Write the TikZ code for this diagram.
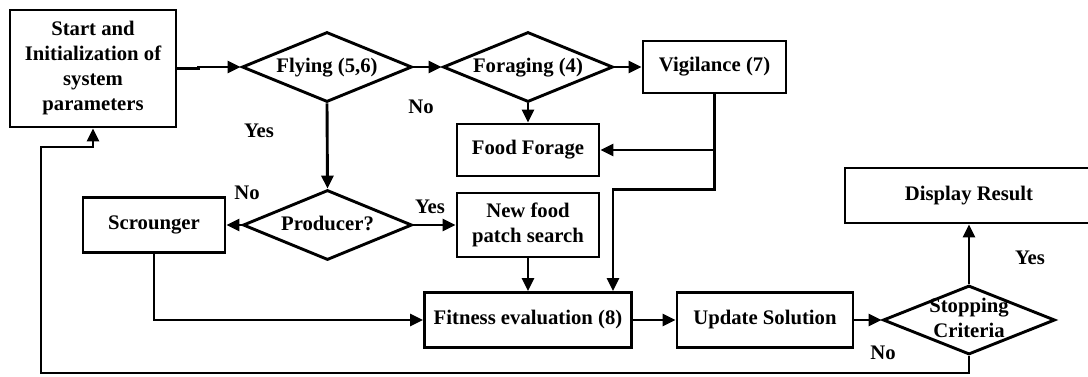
\documentclass[tikz,border=0pt]{standalone}
\usepackage{fontspec}
\setmainfont{Liberation Serif}
\usetikzlibrary{shapes.geometric,arrows.meta}
\newcommand{\dtext}[1]{\makebox[0pt]{\begin{tabular}{@{}c@{}}#1\end{tabular}}}
\begin{document}
\begin{tikzpicture}[x=1pt, y=-1pt, font=\fontsize{20.7}{25}\selectfont\bfseries, line join=miter,
	block/.style={draw, line width=2.9pt, rectangle, align=center, inner sep=0pt},
	decision/.style={draw, line width=2.9pt, diamond, inner sep=0pt, minimum width=170pt, minimum height=70pt},
	lbl/.style={inner sep=0pt},
	arr/.style={line width=2.9pt, -{Triangle[length=13pt,width=12pt]}}]
	% Khung hình
	\useasboundingbox (0,0) rectangle (1088,376);
	
	% Các khối
	\node[block, minimum width=166pt, minimum height=117pt] (start) at (93,68.5) {Start and\\Initialization of\\system\\parameters};
	\node[decision] (flying) at (327,67) {\dtext{Flying (5,6)}};
	\node[decision] (forag) at (528,67) {\dtext{Foraging (4)}};
	\node[block, minimum width=143pt, minimum height=52pt] (vigil) at (714.5,67) {Vigilance (7)};
	\node[block, minimum width=142pt, minimum height=52pt] (food) at (528,150) {Food Forage};
	\node[decision, minimum width=169pt] (prod) at (327.5,225) {\dtext{Producer?}};
	\node[block, minimum width=142pt, minimum height=55pt] (scroung) at (154,225) {Scrounger};
	\node[block, minimum width=142pt, minimum height=64pt] (newfood) at (528,225) {New food\\patch search};
	\node[block, minimum width=207pt, minimum height=55pt] (fitness) at (528,320) {Fitness evaluation (8)};
	\node[block, minimum width=176pt, minimum height=55pt] (update) at (765,320) {Update Solution};
	\node[decision, minimum width=172pt, minimum height=69pt] (stop) at (969,320) {\dtext{Stopping\\Criteria}};
	\node[block, minimum width=248pt, minimum height=55pt] (display) at (969,195.5) {Display Result};
	
	% Nhãn
	\node[lbl] (noA) at (421,107) {No};
	\node[lbl] (yesA) at (259,131) {Yes};
	\node[lbl] (noB) at (247,193) {No};
	\node[lbl] (yesB) at (430,207) {Yes};
	\node[lbl] (yesC) at (1030,258) {Yes};
	\node[lbl] (noC) at (883,353) {No};
	
	% Các mũi tên
	\draw[arr] (start.east) -- ++(21,0) |- (flying.west);
	\draw[arr] (flying.east) -- (forag.west);
	\draw[arr] (forag.east) -- (vigil.west);
	\draw[arr] (forag.south) -- (food.north);
	\draw[arr] (flying.south) -- (prod.north);
	\draw[arr] (prod.west) -- (scroung.east);
	\draw[arr] (prod.east) -- (newfood.west);
	\draw[arr] (newfood.south) -- (fitness.north);
	\draw[arr] (vigil.south) |- (food.east);
	\draw[arr] (vigil.south) -- ++(0,95) -| ([xshift=85pt]fitness.north);
	\draw[arr] (scroung.south) |- (fitness.west);
	\draw[arr] (fitness.east) -- (update.west);
	\draw[arr] (update.east) -- (stop.west);
	\draw[arr] (stop.north) -- (display.south);
	
	% Vòng lặp quay về
	\coordinate (loopbl) at (41,373);
	\coordinate (loopl) at (41,147);
	\draw[arr] (stop.south) |- (loopbl) -- (loopl) -| (start.south);
\end{tikzpicture}
\end{document}
